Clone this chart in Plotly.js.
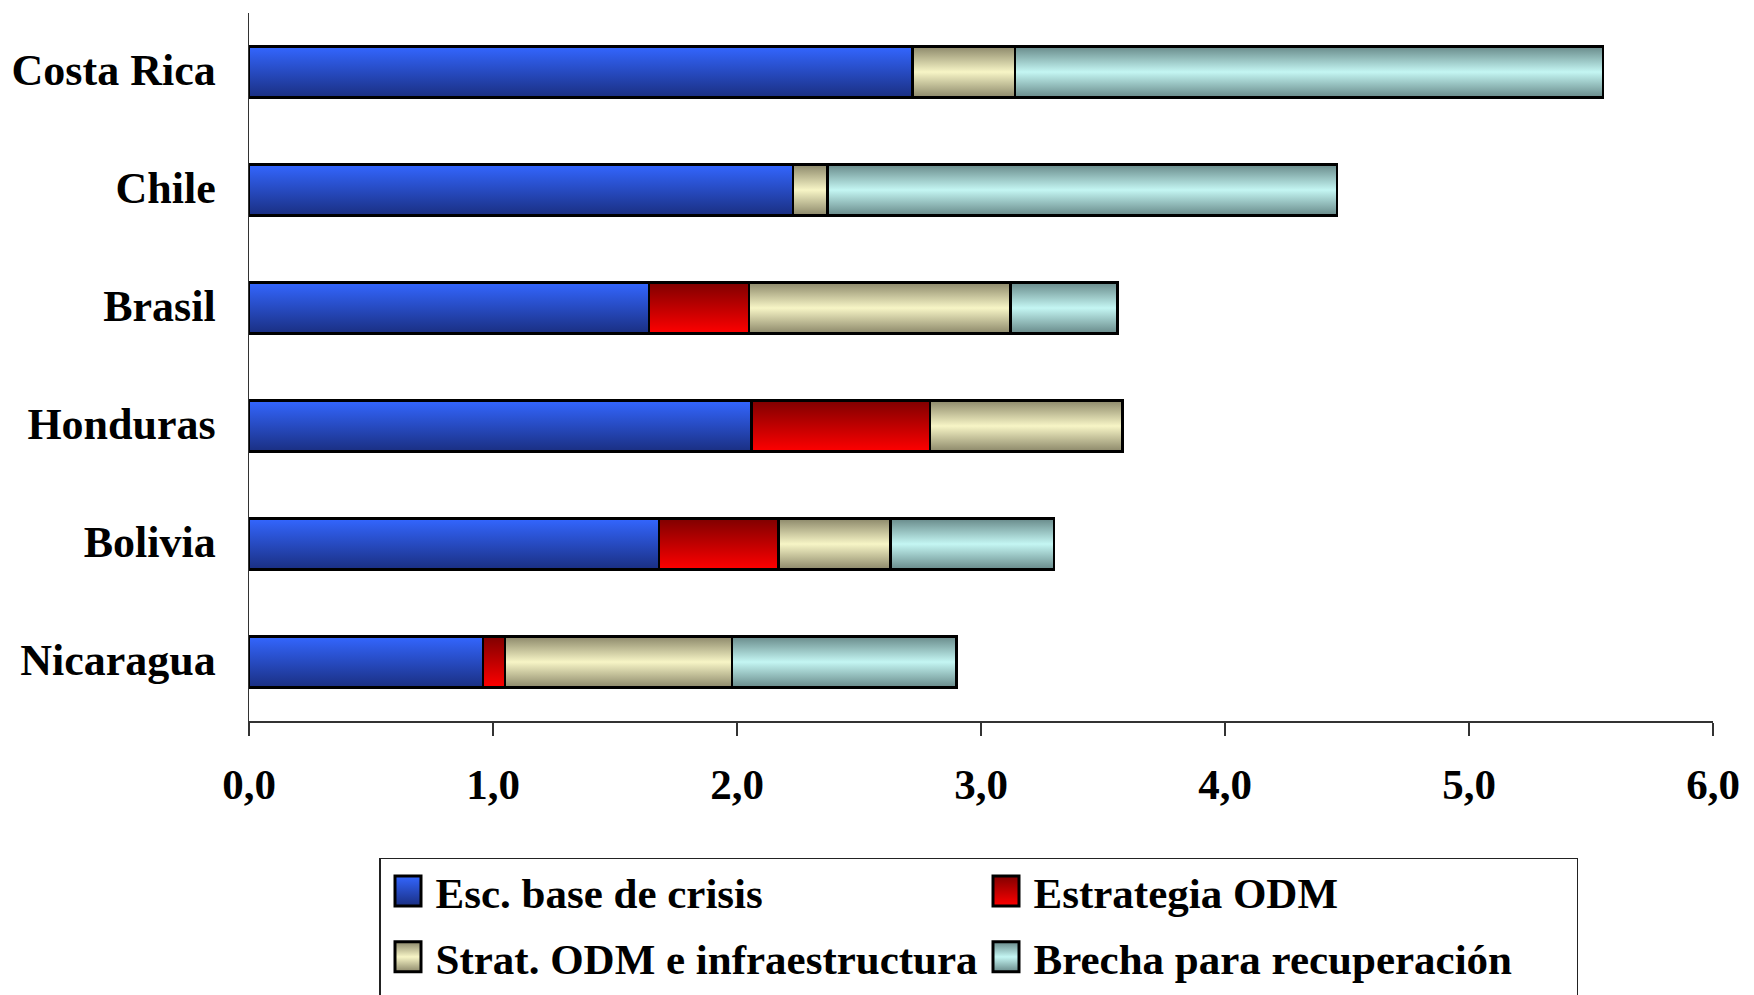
<!DOCTYPE html>
<html>
<head>
<meta charset="utf-8">
<script src="https://cdn.plot.ly/plotly-3.0.1.min.js"></script>
<style>
  html, body { margin: 0; padding: 0; background: #ffffff; }
  #chart { width: 1754px; height: 995px; }
</style>
</head>
<body>
<div id="chart"></div>
<script>
// Countries (top to bottom)
const countries = ["Costa Rica", "Chile", "Brasil", "Honduras", "Bolivia", "Nicaragua"];

// Series names
const seriesNames = ["Esc. base de crisis", "Estrategia ODM", "Strat. ODM e infraestructura", "Brecha para recuperación"];

// Series values (stacked segments)
const escBase     = [2.72, 2.23, 1.64, 2.06, 1.68, 0.96];
const estrategia  = [0.00, 0.00, 0.41, 0.73, 0.49, 0.09];
const stratInfra  = [0.42, 0.14, 1.07, 0.79, 0.46, 0.93];
const brecha      = [2.41, 2.09, 0.44, 0.00, 0.67, 0.92];

// Axis tick values
const xTicks = [0, 1, 2, 3, 4, 5, 6];

const seriesValues = [escBase, estrategia, stratInfra, brecha];
const solidColors = ["#2a4fd6", "#c80000", "#efedc0", "#b8e8e6"];
const gradients = [
  [["0%", "#3366ff"], ["100%", "#1a2f82"]],
  [["0%", "#800000"], ["100%", "#ff0000"]],
  [["0%", "#8c886a"], ["50%", "#f7f5c6"], ["100%", "#8c886a"]],
  [["0%", "#688a8a"], ["50%", "#c4f6f3"], ["100%", "#688a8a"]]
];

const FONT = "Liberation Serif, Times New Roman, serif";

const traces = seriesValues.map((vals, i) => ({
  type: "bar",
  orientation: "h",
  name: seriesNames[i],
  y: countries,
  x: vals,
  marker: { color: solidColors[i], line: { color: "#000000", width: 2.5 } },
  hoverinfo: "skip"
}));

const layout = {
  width: 1754,
  height: 995,
  paper_bgcolor: "#ffffff",
  plot_bgcolor: "#ffffff",
  barmode: "stack",
  bargap: 0.57,
  separators: ",.",
  margin: { l: 249, r: 41, t: 13, b: 274, autoexpand: false },
  font: { family: FONT, size: 43, color: "#000000", weight: "bold" },
  xaxis: {
    range: [0, 6],
    tickvals: xTicks,
    tickformat: ".1f",
    showgrid: false,
    zeroline: false,
    showline: true,
    linecolor: "#333333",
    linewidth: 1.5,
    ticks: "outside",
    ticklen: 13,
    tickwidth: 1.5,
    tickcolor: "#333333",
    ticklabelstandoff: 12,
    tickfont: { family: FONT, size: 43, color: "#000000", weight: "bold" },
    fixedrange: true
  },
  yaxis: {
    type: "category",
    autorange: "reversed",
    showgrid: false,
    zeroline: false,
    showline: true,
    linecolor: "#333333",
    linewidth: 1.5,
    ticks: "",
    ticklabelstandoff: 23,
    ticklabelshift: 2,
    tickfont: { family: FONT, size: 44, color: "#000000", weight: "bold" },
    fixedrange: true
  },
  showlegend: true,
  legend: {
    orientation: "h",
    traceorder: "normal",
    x: 0.0888,
    xanchor: "left",
    y: -0.1935,
    yanchor: "top",
    bordercolor: "#222222",
    borderwidth: 1.5,
    bgcolor: "#ffffff",
    entrywidth: 538,
    entrywidthmode: "pixels",
    itemwidth: 45,
    font: { family: FONT, size: 43, color: "#000000", weight: "bold" }
  }
};

Plotly.newPlot("chart", traces, layout, { displayModeBar: false, staticPlot: true }).then(function (gd) {
  const svg = gd.querySelector(".main-svg");
  const ns = "http://www.w3.org/2000/svg";
  let defs = svg.querySelector("defs");
  if (!defs) { defs = document.createElementNS(ns, "defs"); svg.insertBefore(defs, svg.firstChild); }
  gradients.forEach((stops, i) => {
    const lg = document.createElementNS(ns, "linearGradient");
    lg.setAttribute("id", "barGrad" + i);
    lg.setAttribute("x1", "0"); lg.setAttribute("y1", "0");
    lg.setAttribute("x2", "0"); lg.setAttribute("y2", "1");
    stops.forEach(s => {
      const st = document.createElementNS(ns, "stop");
      st.setAttribute("offset", s[0]);
      st.setAttribute("stop-color", s[1]);
      lg.appendChild(st);
    });
    defs.appendChild(lg);
  });
  const barTraces = gd.querySelectorAll(".barlayer .trace");
  barTraces.forEach((t, i) => {
    t.querySelectorAll("path").forEach(p => { p.style.fill = "url(#barGrad" + i + ")"; });
  });
  const legendTraces = Array.from(gd.querySelectorAll(".legend .traces"));
  const parseT = el => {
    const m = /translate\(\s*([-\d.]+)[ ,]+([-\d.]+)\s*\)/.exec(el.getAttribute("transform") || "");
    return m ? [parseFloat(m[1]), parseFloat(m[2])] : [0, 0];
  };
  const ys = legendTraces.map(t => parseT(t)[1]);
  const minY = Math.min.apply(null, ys);
  legendTraces.forEach((t, i) => {
    const xy = parseT(t);
    const dy = xy[1] > minY + 1 ? 4 : -3;
    t.setAttribute("transform", "translate(" + xy[0] + "," + (xy[1] + dy) + ")");
    t.querySelectorAll(".legendpoints path").forEach(p => {
      p.setAttribute("d", "M13,15H-13V-15H13Z");
      p.style.fill = "url(#barGrad" + i + ")";
      p.style.stroke = "#000000";
      p.style.strokeWidth = "3px";
    });
  });
  const bg = gd.querySelector(".legend rect.bg");
  if (bg) { bg.setAttribute("height", "300"); }
});
</script>
</body>
</html>
